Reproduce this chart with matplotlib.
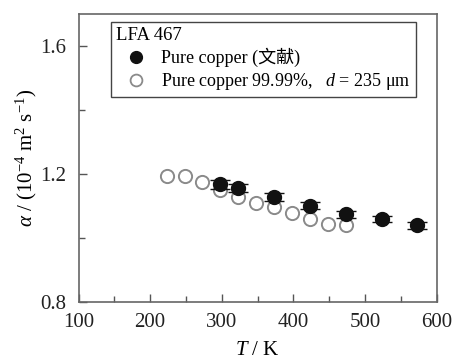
import matplotlib
matplotlib.use("Agg")
import matplotlib.pyplot as plt
from matplotlib.ticker import MultipleLocator
from matplotlib.lines import Line2D

plt.rcParams['font.family'] = ['Liberation Serif', 'Noto Sans CJK SC']
plt.rcParams['mathtext.fontset'] = 'custom'
plt.rcParams['mathtext.rm'] = 'Liberation Serif'
plt.rcParams['mathtext.it'] = 'Liberation Serif:italic'

# Data
T_lit = [298, 323, 373, 423, 473, 523, 573]
a_lit = [1.167, 1.156, 1.127, 1.101, 1.073, 1.058, 1.039]
a_lit_err = [0.013, 0.012, 0.012, 0.012, 0.010, 0.010, 0.010]

T_meas = [223, 248, 273, 298, 323, 348, 373, 398, 423, 448, 473]
a_meas = [1.194, 1.194, 1.175, 1.150, 1.128, 1.110, 1.096, 1.078, 1.058, 1.042, 1.040]

label_lit = "Pure copper (文献)"
label_meas = "Pure copper 99.99%,   $d$ = 235 μm"
legend_title = "LFA 467"

fig = plt.figure(figsize=(4.54, 3.63), dpi=100)
ax = fig.add_axes([0.173, 0.169, 0.789, 0.792])

ax.plot(T_meas, a_meas, linestyle='none', marker='o', markersize=9.5,
        markerfacecolor='white', markeredgecolor='#8a8a8a', markeredgewidth=1.4,
        zorder=2)
ax.errorbar(T_lit, a_lit, yerr=a_lit_err, fmt='o', markersize=10,
            color='#111111', ecolor='#111111', elinewidth=1.0, capsize=7,
            capthick=1.0, zorder=3)

ax.set_xlim(100, 600)
ax.set_ylim(0.8, 1.7)
ax.xaxis.set_major_locator(MultipleLocator(100))
ax.xaxis.set_minor_locator(MultipleLocator(50))
ax.yaxis.set_minor_locator(MultipleLocator(0.2))
ax.set_yticks([0.8, 1.2, 1.6])
ax.set_yticklabels(['0.8', '1.2', '1.6'])
ax.tick_params(which='both', direction='in', top=False, right=False,
               labelsize=15, labelcolor='#222222')
ax.tick_params(axis='x', which='both', pad=8)
ax.tick_params(axis='y', which='both', pad=9)
ax.tick_params(which='major', length=6, width=1.0, color='#555555')
ax.tick_params(which='minor', length=4, width=1.0, color='#555555')
for s in ax.spines.values():
    s.set_color('#666666')
    s.set_linewidth(1.2)

ax.set_xlabel('$T$ / K', fontsize=15, labelpad=6.5)
ax.set_ylabel(r'$\alpha$ / (10$^{-4}$ m$^{2}$ s$^{-1}$)', fontsize=15, labelpad=1)

h_lit = Line2D([], [], linestyle='none', marker='o', markersize=8.5,
               color='#111111')
h_meas = Line2D([], [], linestyle='none', marker='o', markersize=8.5,
                markerfacecolor='white', markeredgecolor='#8a8a8a',
                markeredgewidth=1.3)
leg = ax.legend([h_lit, h_meas], [label_lit, label_meas],
                title=legend_title, loc='upper left', bbox_to_anchor=(0.09, 0.973),
                borderaxespad=0, fontsize=13, title_fontsize=13.5, frameon=True,
                fancybox=False, edgecolor='#444444', framealpha=1,
                handletextpad=0.3, borderpad=0.3, labelspacing=0.2,
                handlelength=2.2, alignment='left')
leg.get_frame().set_linewidth(1.0)

fig.savefig('out.png', dpi=100)
